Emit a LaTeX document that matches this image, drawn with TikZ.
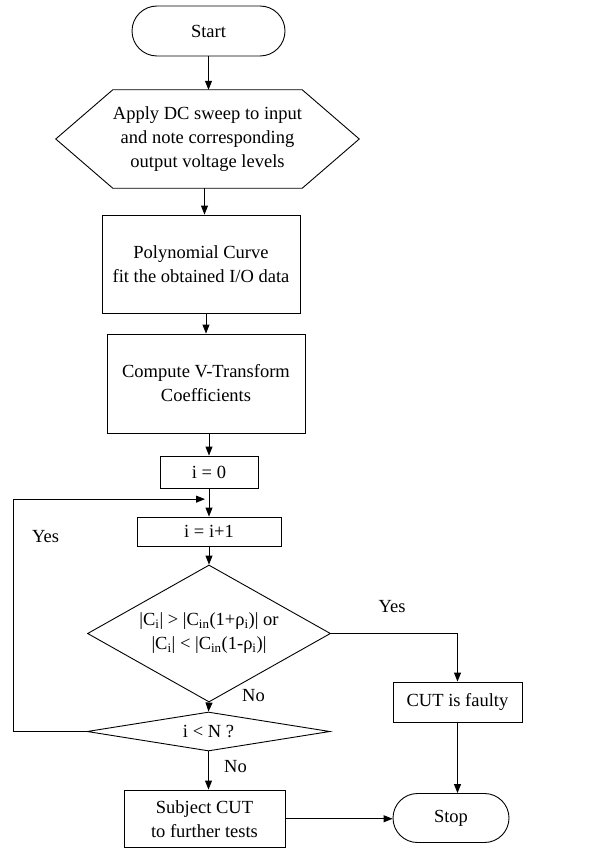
\documentclass[tikz,border=0pt]{standalone}
\usepackage{fontspec}
\setmainfont{Liberation Serif}
\usetikzlibrary{shapes.geometric,shapes.misc,arrows.meta,calc}
\begin{document}
\begin{tikzpicture}[x=1pt,y=1pt,
  every node/.style={font=\fontsize{18.5}{24}\selectfont, align=center, inner sep=0pt},
  box/.style={draw, line width=0.9pt, rectangle},
  term/.style={draw, line width=0.9pt, rounded rectangle},
  dia/.style={draw, line width=0.9pt, diamond},
  arr/.style={line width=0.9pt, -{Triangle[length=9pt,width=7pt]}},
  ln/.style={line width=0.9pt}]
\useasboundingbox (0,0) rectangle (589,-848);
\node[term, minimum width=153, minimum height=50] (start) at (208.5,-31) {Start};
\node[minimum width=171, minimum height=98] (hex) at (207.5,-139) {Apply DC sweep to input\\and note corresponding\\output voltage levels};
\draw[ln] (hex.north west) -- (hex.north east) -- ($(hex.east)+(57,0)$) -- (hex.south east) -- (hex.south west) -- ($(hex.west)+(-57,0)$) -- cycle;
\node[box, minimum width=198, minimum height=98] (poly) at (201,-264) {Polynomial Curve\\fit the obtained I/O data};
\node[box, minimum width=198, minimum height=99] (comp) at (206,-383.5) {Compute V-Transform\\Coefficients};
\node[box, minimum width=98, minimum height=32] (i0) at (209,-472) {i = 0};
\node[box, minimum width=144, minimum height=29] (inc) at (209,-531.5) {i = i+1};
\node[dia, aspect=1.77, minimum width=243, minimum height=137] (dec1) at (209,-633.5) {|C\textsubscript{i}| > |C\textsubscript{in}(1+ρ\textsubscript{i})| or\\|C\textsubscript{i}| < |C\textsubscript{in}(1-ρ\textsubscript{i})|};
\node[dia, aspect=6.2, minimum width=243, minimum height=39] (dec2) at (208.5,-731.5) {i < N ?};
\node[box, minimum width=129, minimum height=40] (faulty) at (457.5,-702) {CUT is faulty};
\node[term, minimum width=116, minimum height=49] (stop) at (451,-818) {Stop};
\node[box, minimum width=161, minimum height=57.5] (subj) at (204.5,-818.75) {Subject CUT\\to further tests};
\coordinate (j) at ($(i0.south)!0.38!(inc.north)$);
\draw[arr] (start.south) -- (start.south |- hex.north);
\draw[arr] ([xshift=-3]hex.south) -- ([xshift=-3]hex.south |- poly.north);
\draw[arr] ([xshift=5]poly.south) -- ([xshift=5]poly.south |- comp.north);
\draw[arr] ([xshift=3]comp.south) -- ([xshift=3]comp.south |- i0.north);
\draw[arr] (i0.south) -- (inc.north);
\draw[arr] (inc.south) -- (dec1.north);
\draw[arr] (dec1.south) -- (dec2.north);
\draw[arr] (dec1.east) -| (faulty.north);
\draw[arr] (faulty.south) -- (faulty.south |- stop.north);
\draw[arr] (dec2.south) -- (dec2.south |- subj.north);
\draw[arr] (subj.east) -- (subj.east -| stop.west);
\draw[arr] (dec2.west) -- ++(-73,0) |- ([xshift=-4]j);
\node (yes1) at (392,-607) {Yes};
\node (no1) at (253.5,-696) {No};
\node (yes2) at (45.5,-537) {Yes};
\node (no2) at (235.5,-767) {No};
\end{tikzpicture}
\end{document}
